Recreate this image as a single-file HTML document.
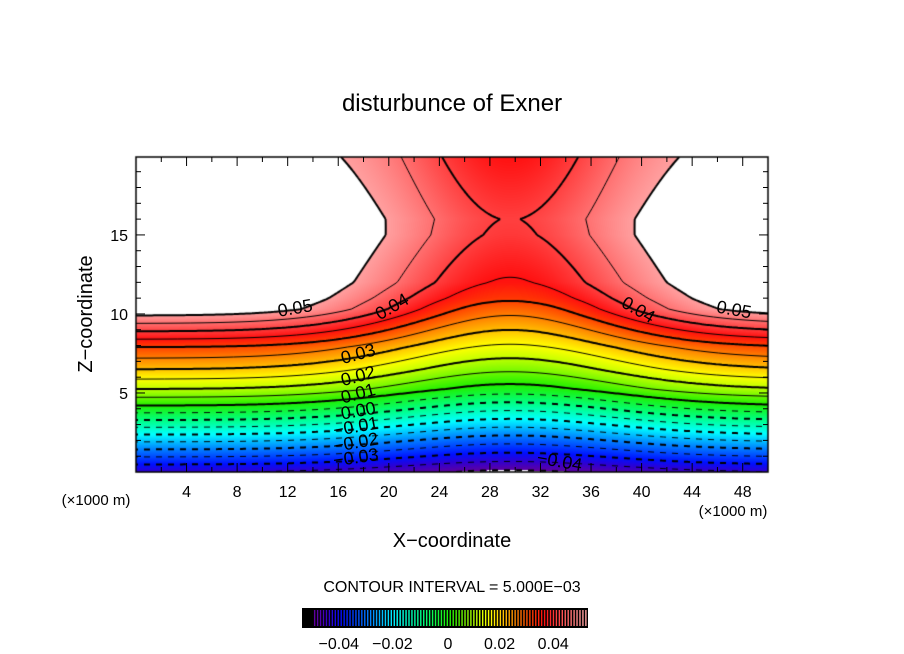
<!DOCTYPE html>
<html><head><meta charset="utf-8"><style>
body{margin:0;background:#fff;width:904px;height:654px;overflow:hidden;position:relative;font-family:"Liberation Sans",sans-serif}
canvas{position:absolute;left:0;top:0}
svg{position:absolute;left:0;top:0}
text{font-family:"Liberation Sans",sans-serif;fill:#000}
</style></head><body>
<canvas id="cv" width="904" height="654"></canvas>
<svg id="sv" width="904" height="654">
<text x="452" y="111" font-size="24" text-anchor="middle">disturbunce of Exner</text>
<text transform="translate(92,314) rotate(-90)" font-size="20" text-anchor="middle">Z−coordinate</text>
<text x="452" y="547" font-size="20" text-anchor="middle">X−coordinate</text>
<text x="96" y="505" font-size="15" text-anchor="middle">(×1000 m)</text>
<text x="733" y="516" font-size="15" text-anchor="middle">(×1000 m)</text>
<text x="452" y="592" font-size="16" text-anchor="middle">CONTOUR INTERVAL = 5.000E−03</text>
<g id="ticks"></g>
<g id="labels"></g>
<g id="cbar"></g>
</svg>
<script>
// ---- data ----
const zProf = [0, 2, 4.2, 5.25, 6.5, 7.9, 9.9, 10.3, 11, 12, 15, 16, 20];
const edgeVals = [-0.045, -0.024, 0, 0.01, 0.02, 0.03, 0.05, 0.054, 0.056, 0.0557, 0.0556, 0.0547, 0.052];
const centerVals = [-0.051, -0.033, -0.012, -0.002, 0.006, 0.014, 0.025, 0.027, 0.031, 0.0345, 0.0392, 0.0399, 0.035];
const widthVals = [12, 12, 12, 12, 12, 12, 12, 12, 12, 10.8, 9.5, 9.2, 9.2];
const centerX = 29.6;
const levels = [-0.05,-0.045,-0.04,-0.035,-0.03,-0.025,-0.02,-0.015,-0.01,-0.005,0,0.005,0.01,0.015,0.02,0.025,0.03,0.035,0.04,0.045,0.05];
const cmapVals = [-0.05,-0.045,-0.04,-0.03,-0.02,-0.01,0,0.01,0.015,0.02,0.025,0.03,0.035,0.04,0.045,0.05];
const cmapCols = ["#6000a0","#3000d0","#0010ff","#0080ff","#00ffff","#00ff80","#20f000","#c0ff00","#ffff00","#ffc000","#ff8000","#ff4000","#ff1010","#ff4040","#ff7070","#ffa0a0"];
const xTickLabels = [4,8,12,16,20,24,28,32,36,40,44,48];
const yTickLabels = [5,10,15];
const cbarTicks = [-0.04,-0.02,0,0.02,0.04];
const cbarTickText = ["−0.04","−0.02","0","0.02","0.04"];
const contourLabels = [
 {t:"0.05",x:12.6,z:10.3,r:-10},{t:"0.04",x:20.3,z:10.4,r:-30},{t:"0.03",x:17.6,z:7.4,r:-15},
 {t:"0.02",x:17.6,z:6.0,r:-15},{t:"0.01",x:17.6,z:4.9,r:-15},{t:"0.00",x:17.6,z:3.8,r:-10},
 {t:"−0.01",x:17.4,z:2.8,r:-10},{t:"−0.02",x:17.4,z:1.8,r:-10},{t:"−0.03",x:17.4,z:0.85,r:-8},
 {t:"−0.04",x:33.5,z:0.6,r:10},{t:"0.04",x:39.7,z:10.2,r:30},{t:"0.05",x:47.3,z:10.2,r:10}];
// ---- axes ----
const X0=136,X1=768,Y0=472,Y1=157,XMAX=50,ZMAX=19.93;
const sx=x=>X0+(X1-X0)*x/XMAX, sz=z=>Y0-(Y0-Y1)*z/ZMAX;
const ix=p=>(p-X0)/(X1-X0)*XMAX, iz=p=>(Y0-p)/(Y0-Y1)*ZMAX;
function interp(xs,ys,v){if(v<=xs[0])return ys[0];for(let i=1;i<xs.length;i++){if(v<=xs[i]){const t=(v-xs[i-1])/(xs[i]-xs[i-1]);return ys[i-1]+t*(ys[i]-ys[i-1]);}}return ys[ys.length-1];}
function field(x,z){const e=interp(zProf,edgeVals,z),c=interp(zProf,centerVals,z),W=interp(zProf,widthVals,z);const d=(x-centerX)/W;const g=Math.exp(-d*d);return e*(1-g)+c*g;}
function hex(h){return [parseInt(h.slice(1,3),16),parseInt(h.slice(3,5),16),parseInt(h.slice(5,7),16)];}
const cm=cmapCols.map(hex);
function color(v){if(v>0.05||v<-0.05)return [255,255,255];for(let i=1;i<cmapVals.length;i++){if(v<=cmapVals[i]){const t=(v-cmapVals[i-1])/(cmapVals[i]-cmapVals[i-1]);return [0,1,2].map(k=>Math.round(cm[i-1][k]+t*(cm[i][k]-cm[i-1][k])));}}return cm[cm.length-1];}
const cv=document.getElementById('cv'),ctx=cv.getContext('2d');
const W=X1-X0,H=Y0-Y1;const img=ctx.createImageData(W,H);
for(let j=0;j<H;j++)for(let i=0;i<W;i++){const v=field(ix(X0+i+0.5),iz(Y1+j+0.5));const c=color(v);const o=(j*W+i)*4;img.data[o]=c[0];img.data[o+1]=c[1];img.data[o+2]=c[2];img.data[o+3]=255;}
ctx.putImageData(img,X0,Y1);
// contours (marching squares)
const st=2,nx=Math.ceil(W/st),ny=Math.ceil(H/st);const G=[];
for(let j=0;j<=ny;j++){G[j]=[];for(let i=0;i<=nx;i++)G[j][i]=field(ix(X0+Math.min(i*st,W)),iz(Y1+Math.min(j*st,H)));}
ctx.save();ctx.beginPath();ctx.rect(X0,Y1,W,H);ctx.clip();ctx.strokeStyle='#000';
levels.forEach(L=>{
 const thick=Math.abs(Math.round(L*1000))%10===0;ctx.lineWidth=thick?2:1;ctx.beginPath();
 for(let j=0;j<ny;j++)for(let i=0;i<nx;i++){
  const px=[X0+i*st,X0+(i+1)*st],py=[Y1+j*st,Y1+(j+1)*st];
  const a=G[j][i],b=G[j][i+1],c=G[j+1][i+1],d=G[j+1][i];
  const pts=[];
  const E=(v1,v2,x1,y1,x2,y2)=>{if((v1<L)!==(v2<L)){const t=(L-v1)/(v2-v1);pts.push([x1+t*(x2-x1),y1+t*(y2-y1)]);}};
  E(a,b,px[0],py[0],px[1],py[0]);E(b,c,px[1],py[0],px[1],py[1]);E(c,d,px[1],py[1],px[0],py[1]);E(d,a,px[0],py[1],px[0],py[0]);
  for(let k=0;k+1<pts.length;k+=2){
   const mx=(pts[k][0]+pts[k+1][0])/2;
   if(L<-1e-9&&Math.floor(mx/6)%2===1)continue;
   ctx.moveTo(pts[k][0],pts[k][1]);ctx.lineTo(pts[k+1][0],pts[k+1][1]);}
 }
 ctx.stroke();});
ctx.restore();
ctx.strokeStyle='#000';ctx.lineWidth=1.5;ctx.strokeRect(X0,Y1,W,H);
// ticks
const NS='http://www.w3.org/2000/svg';const tg=document.getElementById('ticks');
function ln(x1,y1,x2,y2,w,name){const l=document.createElementNS(NS,'line');l.setAttribute('x1',x1);l.setAttribute('y1',y1);l.setAttribute('x2',x2);l.setAttribute('y2',y2);l.setAttribute('stroke','#000');l.setAttribute('stroke-width',w);


tg.appendChild(l);}
function tx(g,x,y,s,size,name,anchor){const t=document.createElementNS(NS,'text');t.setAttribute('x',x);t.setAttribute('y',y);t.setAttribute('font-size',size);t.setAttribute('text-anchor',anchor||'middle');t.textContent=s;


g.appendChild(t);return t;}
for(let x=2;x<50;x+=2){const m=x%4===0,len=m?9:5;ln(sx(x),Y0,sx(x),Y0-len,1,'x-tick');ln(sx(x),Y1,sx(x),Y1+len,1,'x-tick-top');}
for(let z=1;z<20;z++){const m=z%5===0,len=m?9:5;ln(X0,sz(z),X0+len,sz(z),1,'y-tick');ln(X1,sz(z),X1-len,sz(z),1,'y-tick-right');}
xTickLabels.forEach(v=>tx(tg,sx(v),497,String(v),16,'x-tick-label'));
yTickLabels.forEach(v=>tx(tg,X0-8,sz(v)+6,String(v),16,'y-tick-label','end'));
// contour labels
const lg=document.getElementById('labels');
contourLabels.forEach(c=>{const t=tx(lg,sx(c.x),sz(c.z),c.t,18,'contour-label');t.setAttribute('transform','rotate('+c.r+' '+sx(c.x)+' '+sz(c.z)+')');t.setAttribute('dominant-baseline','middle');});
// colorbar
const cg=document.getElementById('cbar');const CB0=316,CB1=584;const cbx=v=>CB0+(v+0.05)/0.1*(CB1-CB0);
const bg=document.createElementNS(NS,'rect');bg.setAttribute('x',302);bg.setAttribute('y',608);bg.setAttribute('width',286);bg.setAttribute('height',20);bg.setAttribute('fill','#000');


cg.appendChild(bg);
for(let k=0;k<=92;k++){const v=-0.0505+k*0.0011;const c=color(Math.max(-0.05,Math.min(0.05,v)));const x=cbx(v);const l=document.createElementNS(NS,'line');l.setAttribute('x1',x);l.setAttribute('x2',x);l.setAttribute('y1',610);l.setAttribute('y2',626);l.setAttribute('stroke','rgb('+c.join(',')+')');l.setAttribute('stroke-width',1.4);


cg.appendChild(l);}
cbarTicks.forEach((v,i)=>tx(cg,cbx(v)-4+(v===0?2:0),649,cbarTickText[i],16,'colorbar-tick-label'));
</script>
</body></html>
